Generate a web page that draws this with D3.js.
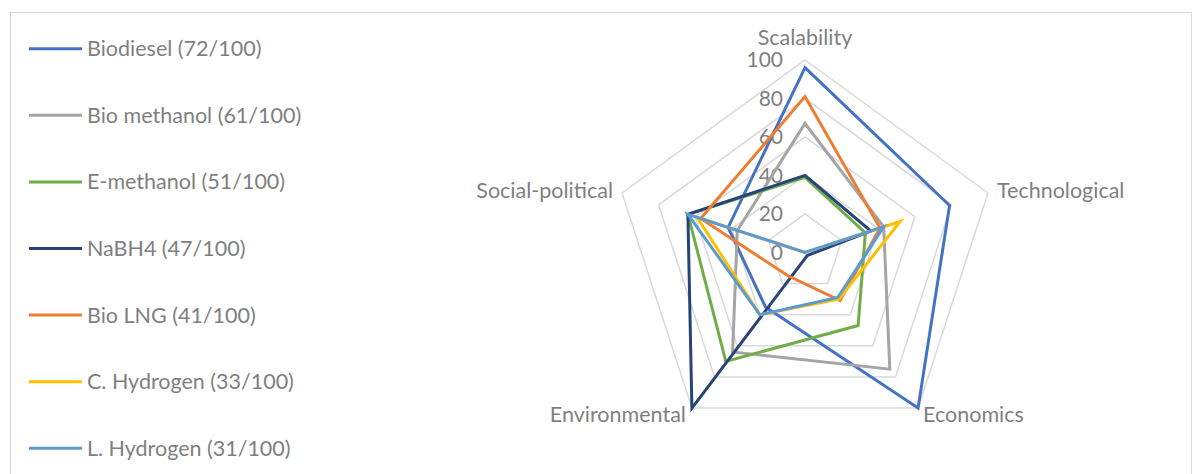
<!DOCTYPE html>
<html>
<head>
<meta charset="utf-8">
<script src="https://cdn.jsdelivr.net/npm/d3@7"></script>
<style>
  html, body { margin: 0; padding: 0; background: #fff; }
  svg { display: block; }
  text { font-family: "Lato", "Open Sans", sans-serif; fill: #7f7f7f; }
</style>
</head>
<body>
<svg id="chart" width="1203" height="474"></svg>
<script>
// ---- data ----
const categories = ["Scalability", "Technological", "Economics", "Environmental", "Social-political"];
const seriesNames = ["Biodiesel (72/100)", "Bio methanol (61/100)", "E-methanol (51/100)", "NaBH4 (47/100)", "Bio LNG (41/100)", "C. Hydrogen (33/100)", "L. Hydrogen (31/100)"];
const biodiesel   = [96, 79, 100, 35, 42];
const bioMethanol = [67, 43, 75, 64, 37];
const eMethanol   = [39, 33, 47, 70, 64];
const nabh4       = [40, 36, 2, 100, 64];
const bioLNG      = [81, 41, 31, 15, 57];
const cHydrogen   = [0, 52, 30, 40, 59];
const lHydrogen   = [0, 43, 29, 40, 64];
const tickValues  = [0, 20, 40, 60, 80, 100];

const seriesValues = [biodiesel, bioMethanol, eMethanol, nabh4, bioLNG, cHydrogen, lHydrogen];
const colors = ["#4472C4", "#A5A5A5", "#70AD47", "#264478", "#ED7D31", "#FFC000", "#5B9BD5"];

// ---- layout ----
const svg = d3.select("#chart");
const cx = 805, cy = 252.4, R = 192.4;

// frame
svg.append("rect").attr("x", 10.5).attr("y", 12.5).attr("width", 1181).attr("height", 480)
  .attr("fill", "#fff").attr("stroke", "#D9D9D9").attr("stroke-width", 1);

const r = d3.scaleLinear().domain([0, 100]).range([0, R]);
const angle = d3.scalePoint().domain(categories).range([0, 2 * Math.PI * (categories.length - 1) / categories.length]);
const radial = d3.lineRadial()
  .angle((d, i) => angle(categories[i]))
  .radius(d => r(d))
  .curve(d3.curveLinearClosed);

const g = svg.append("g").attr("transform", `translate(${cx},${cy})`);

// grid rings
g.selectAll("path.ring").data(tickValues.filter(t => t > 0)).join("path")
  .attr("class", "ring")
  .attr("d", t => radial(categories.map(() => t)))
  .attr("fill", "none").attr("stroke", "#D9D9D9").attr("stroke-width", 1.5);

// tick labels
g.selectAll("text.tick").data(tickValues).join("text")
  .attr("class", "tick")
  .attr("x", -22)
  .attr("y", t => -r(t))
  .attr("dy", "0.35em")
  .attr("text-anchor", "end")
  .style("font-size", "21px")
  .text(t => t);

// series
g.selectAll("path.series").data(seriesValues).join("path")
  .attr("class", "series")
  .attr("d", d => radial(d))
  .attr("fill", "none")
  .attr("stroke", (d, i) => colors[i])
  .attr("stroke-width", 3)
  .attr("stroke-linejoin", "miter");

// category labels
const labelCfg = {
  "Scalability":      { anchor: "middle", dx: 0,  dy: -15 },
  "Technological":    { anchor: "start",  dx: 9,  dy: 5 },
  "Economics":        { anchor: "start",  dx: 5,  dy: 14 },
  "Environmental":    { anchor: "end",    dx: -6, dy: 14 },
  "Social-political": { anchor: "end",    dx: -9, dy: 5 }
};
g.selectAll("text.cat").data(categories).join("text")
  .attr("class", "cat")
  .attr("x", c => r(100) * Math.sin(angle(c)) + labelCfg[c].dx)
  .attr("y", c => -r(100) * Math.cos(angle(c)) + labelCfg[c].dy)
  .attr("text-anchor", c => labelCfg[c].anchor)
  .style("font-size", "21.5px")
  .text(c => c);

// legend
const leg = svg.append("g");
const legY = d3.scaleLinear().domain([0, seriesNames.length - 1]).range([48.7, 448.3]);
const items = leg.selectAll("g").data(seriesNames).join("g")
  .attr("transform", (d, i) => `translate(0,${legY(i)})`);
items.append("line").attr("x1", 29).attr("x2", 82).attr("y1", 0).attr("y2", 0)
  .attr("stroke", (d, i) => colors[i]).attr("stroke-width", 3);
items.append("text").attr("x", 87).attr("y", 0).attr("dy", "0.35em")
  .style("font-size", "21.5px").text(d => d);
</script>
</body>
</html>
